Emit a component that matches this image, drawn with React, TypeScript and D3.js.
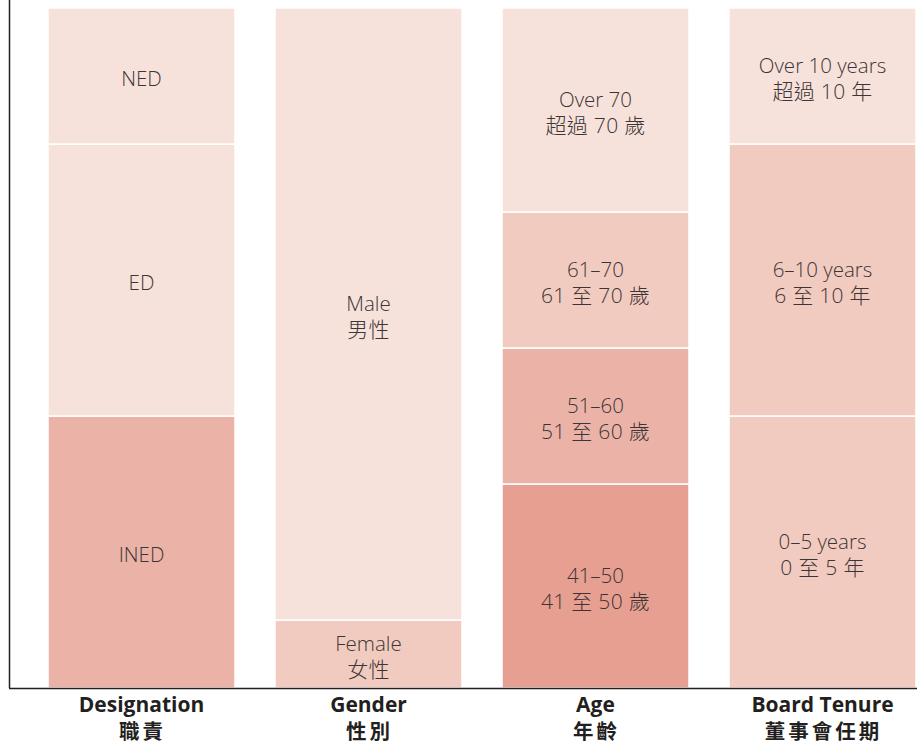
import React, { useEffect, useRef } from "react";
import * as d3 from "d3";

// categories along the x axis (English / Chinese)
const categories = ["Designation", "Gender", "Age", "Board Tenure"];
const categoriesZh = ["職責", "性別", "年齡", "董事會任期"];

// segments for each bar, bottom to top (number of directors)
const designationLabels = ["INED", "ED", "NED"];
const designationValues = [4, 4, 2];

const genderLabels = [["Female", "女性"], ["Male", "男性"]];
const genderValues = [1, 9];

const ageLabels = [
  ["41–50", "41 至 50 歲"],
  ["51–60", "51 至 60 歲"],
  ["61–70", "61 至 70 歲"],
  ["Over 70", "超過 70 歲"],
];
const ageValues = [3, 2, 2, 3];

const tenureLabels = [
  ["0–5 years", "0 至 5 年"],
  ["6–10 years", "6 至 10 年"],
  ["Over 10 years", "超過 10 年"],
];
const tenureValues = [4, 4, 2];

const totalDirectors = 10;

const shades = ["#f7e1db", "#f2cbc0", "#ebb3a7", "#e69f90"];

type Seg = { cat: string; lines: string[]; value: number; shade: number };

const App = () => {
  const ref = useRef<SVGSVGElement | null>(null);

  useEffect(() => {
    const svg = d3.select(ref.current);
    svg.selectAll("*").remove();

    const width = 917;
    const height = 744;
    const left = 10;
    const top = 8;
    const bottom = 688;

    svg.attr("width", width).attr("height", height);

    const x = d3
      .scaleBand()
      .domain(categories)
      .range([left, 954])
      .paddingInner(40 / 227)
      .paddingOuter(38 / 227);

    const y = d3.scaleLinear().domain([0, totalDirectors]).range([bottom, top]);

    const groups: Seg[][] = [
      designationLabels.map((l, i) => ({
        cat: categories[0],
        lines: [l],
        value: designationValues[i],
        shade: [2, 0, 0][i],
      })),
      genderLabels.map((l, i) => ({
        cat: categories[1],
        lines: l,
        value: genderValues[i],
        shade: [1, 0][i],
      })),
      ageLabels.map((l, i) => ({
        cat: categories[2],
        lines: l,
        value: ageValues[i],
        shade: [3, 2, 1, 0][i],
      })),
      tenureLabels.map((l, i) => ({
        cat: categories[3],
        lines: l,
        value: tenureValues[i],
        shade: [1, 1, 0][i],
      })),
    ];

    const font = "'Open Sans', 'Noto Sans CJK TC', sans-serif";

    groups.forEach((segs) => {
      let acc = 0;
      segs.forEach((s) => {
        const y0 = acc;
        const y1 = acc + s.value;
        acc = y1;
        const bx = x(s.cat) as number;
        const bw = x.bandwidth();

        svg
          .append("rect")
          .attr("x", bx)
          .attr("y", y(y1))
          .attr("width", bw)
          .attr("height", y(y0) - y(y1))
          .attr("fill", shades[s.shade])
          .attr("stroke", "#ffffff")
          .attr("stroke-width", 1.5);

        const mid = (y(y0) + y(y1)) / 2 + 2;
        const lh = 26;
        const txt = svg
          .append("text")
          .attr("text-anchor", "middle")
          .style("font-family", font)
          .style("font-weight", 300)
          .attr("fill", "#3d3535");
        s.lines.forEach((line, j) => {
          txt
            .append("tspan")
            .attr("x", bx + bw / 2)
            .attr("y", mid + (j - (s.lines.length - 1) / 2) * lh)
            .attr("dominant-baseline", "central")
            .style("font-size", j === 0 ? "20.5px" : "21px")
            .style("letter-spacing", j === 0 ? "0px" : "0.3px")
            .text(line);
        });
      });
    });

    // axis lines
    svg
      .append("line")
      .attr("x1", left - 0.5)
      .attr("x2", left - 0.5)
      .attr("y1", 0)
      .attr("y2", bottom)
      .attr("stroke", "#231f20")
      .attr("stroke-width", 1.5);
    svg
      .append("line")
      .attr("x1", left - 1)
      .attr("x2", width)
      .attr("y1", bottom + 0.5)
      .attr("y2", bottom + 0.5)
      .attr("stroke", "#231f20")
      .attr("stroke-width", 1.5);

    // category labels
    categories.forEach((c, i) => {
      const cx = (x(c) as number) + x.bandwidth() / 2;
      svg
        .append("text")
        .attr("x", cx)
        .attr("y", 704)
        .attr("text-anchor", "middle")
        .attr("dominant-baseline", "central")
        .style("font-family", font)
        .style("font-size", "21px")
        .style("font-weight", 700)
        .attr("fill", "#231f20")
        .text(c);
      svg
        .append("text")
        .attr("x", cx + 1)
        .attr("y", 731)
        .attr("text-anchor", "middle")
        .attr("dominant-baseline", "central")
        .style("font-family", font)
        .style("font-size", "20.5px")
        .style("letter-spacing", "3px")
        .style("font-weight", 700)
        .attr("fill", "#231f20")
        .text(categoriesZh[i]);
    });
  }, []);

  return (
    <div style={{ position: "absolute", left: 0, top: 0 }}>
      <svg ref={ref} style={{ display: "block" }} />
    </div>
  );
};

export default App;
